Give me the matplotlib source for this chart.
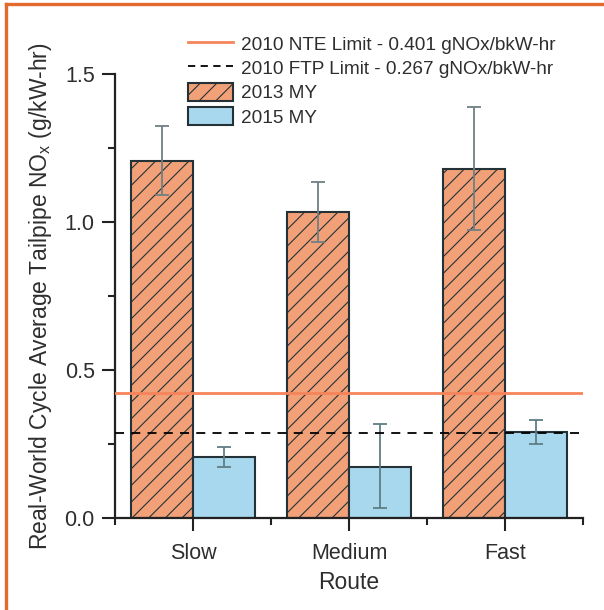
import matplotlib
matplotlib.use("Agg")
import matplotlib.pyplot as plt
import numpy as np
from matplotlib.lines import Line2D
from matplotlib.patches import Patch

routes = ["Slow", "Medium", "Fast"]
my2013 = [1.207, 1.034, 1.179]
my2013_hi = [1.325, 1.135, 1.387]
my2013_lo = [1.090, 0.932, 0.973]
my2015 = [0.207, 0.173, 0.292]
my2015_hi = [0.240, 0.319, 0.332]
my2015_lo = [0.173, 0.034, 0.251]
nte_limit = 0.422
ftp_limit = 0.289
yticks = [0.0, 0.5, 1.0, 1.5]
labels = ["2010 NTE Limit - 0.401 gNOx/bkW-hr",
          "2010 FTP Limit - 0.267 gNOx/bkW-hr",
          "2013 MY", "2015 MY"]

plt.rcParams['font.family'] = ['Liberation Sans', 'DejaVu Sans']
plt.rcParams['hatch.linewidth'] = 0.8
plt.rcParams['hatch.color'] = '#2a2a2a'

txt = '#2e2e2e'
orange_fill = '#F2A077'
blue_fill = '#A8D8EE'
edge = '#243238'
nte_color = '#F5845A'
err_color = '#5E7E84'

fig = plt.figure(figsize=(6.04, 6.10), dpi=100)
ax = fig.add_axes([115/604, 1-518.3/610, 468/604, (518.3-74)/610])

x = np.arange(1, len(routes)+1)
w = 0.4
ax.bar(x - w/2, my2013, width=w, color=orange_fill, edgecolor=edge,
       linewidth=1.5, hatch='//', zorder=2)
ax.bar(x + w/2, my2015, width=w, color=blue_fill, edgecolor=edge,
       linewidth=1.5, zorder=2)

err13 = [np.array(my2013) - np.array(my2013_lo), np.array(my2013_hi) - np.array(my2013)]
err15 = [np.array(my2015) - np.array(my2015_lo), np.array(my2015_hi) - np.array(my2015)]
ax.errorbar(x - w/2, my2013, yerr=err13, fmt='none', ecolor='#6f7f84',
            elinewidth=1.3, capsize=5, capthick=1.3, zorder=3)
ax.errorbar(x + w/2, my2015, yerr=err15, fmt='none', ecolor=err_color,
            elinewidth=1.3, capsize=5, capthick=1.3, zorder=3)

ax.axhline(nte_limit, color=nte_color, lw=2, zorder=4)
ax.axhline(ftp_limit, color='black', lw=1.3, ls=(0, (5, 4)), zorder=4)

ax.set_xlim(0.5, 3.5)
ax.set_ylim(0, 1.5)
ax.set_xticks(x)
ax.set_xticklabels(routes)
ax.set_xticks([0.5, 1.5, 2.5, 3.5], minor=True)
ax.set_yticks(yticks)
ax.set_yticklabels([f"{v:.1f}" for v in yticks])
ax.set_yticks([0.25, 0.75, 1.25], minor=True)

for s in ['top', 'right']:
    ax.spines[s].set_visible(False)
for s in ['left', 'bottom']:
    ax.spines[s].set_linewidth(1.6)
    ax.spines[s].set_color('#222222')

ax.tick_params(which='major', direction='out', length=9.5, width=1.5,
               labelsize=15.5, colors='#222222', labelcolor=txt, pad=5)
ax.tick_params(which='minor', direction='out', length=5, width=1.5, colors='#222222')
ax.tick_params(axis='x', which='major', pad=8)

ax.set_xlabel("Route", fontsize=16.5, color=txt, labelpad=5)
ax.set_ylabel("Real-World Cycle Average Tailpipe NO$_\\mathregular{x}$ (g/kW-hr)",
              fontsize=16.5, color=txt)
ax.yaxis.set_label_coords(-0.13, 0.5)

handles = [Line2D([], [], color=nte_color, lw=2),
           Line2D([], [], color='black', lw=1.3, ls=(0, (4, 3))),
           Patch(facecolor=orange_fill, edgecolor=edge, hatch='//', linewidth=1.5),
           Patch(facecolor=blue_fill, edgecolor=edge, linewidth=1.5)]
leg = fig.legend(handles, labels, loc='upper left',
                 bbox_to_anchor=(178/604, 1-25/610), frameon=False,
                 fontsize=13.7, handlelength=2.4, handleheight=1.1,
                 handletextpad=0.4, labelspacing=0.24, borderpad=0)
for t in leg.get_texts():
    t.set_color(txt)

# orange frame
fc = '#E36A2C'
fig.add_artist(Line2D([6/604, 1.0], [1-4/610, 1-4/610], color=fc, lw=2.4,
                      transform=fig.transFigure))
fig.add_artist(Line2D([6/604, 6/604], [0, 1-4/610], color=fc, lw=2.4,
                      transform=fig.transFigure))

fig.savefig("out.png", dpi=100)
